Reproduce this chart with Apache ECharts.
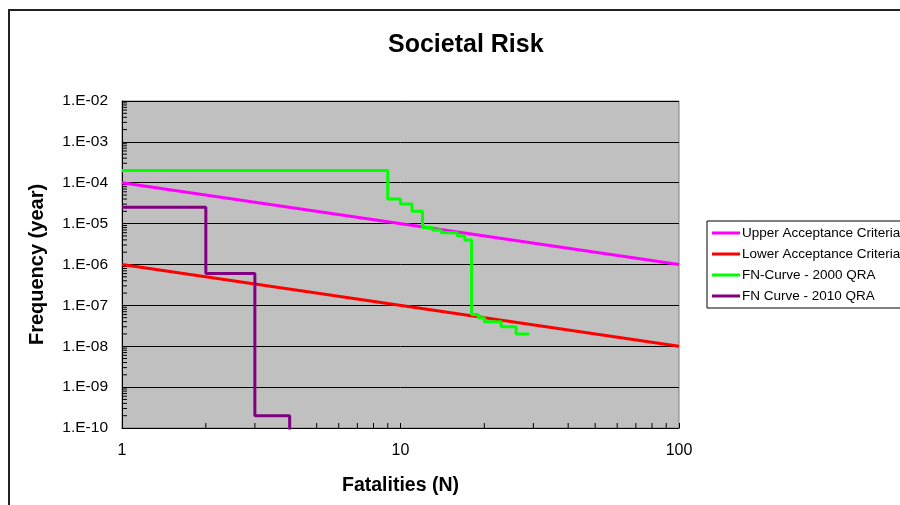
<!DOCTYPE html>
<html>
<head>
<meta charset="utf-8">
<script src="https://cdn.jsdelivr.net/npm/echarts@6/dist/echarts.min.js"></script>
<style>html,body{margin:0;padding:0;background:#fff}#c{width:900px;height:505px}</style>
</head>
<body>
<div id="c"></div>
<script>
// ---- data ----
const upperN = [1, 100];
const upperF = [1e-4, 1e-6];
const lowerN = [1, 100];
const lowerF = [1e-6, 1e-8];
const fn2000N = [1, 9, 10, 11, 12, 13, 14, 16, 17, 18, 19, 20, 23, 26, 29];
const fn2000F = [2e-4, 4e-5, 3e-5, 2e-5, 8e-6, 7e-6, 6e-6, 5e-6, 4e-6, 6e-8, 5e-8, 4e-8, 3e-8, 2e-8, 2e-8];
const fn2010N = [1, 2, 3, 4];
const fn2010F = [2.5e-5, 6e-7, 2e-10, 1e-11];
const seriesNames = ['Upper Acceptance Criteria', 'Lower Acceptance Criteria', 'FN-Curve - 2000 QRA', 'FN Curve - 2010 QRA'];
const xMin = 1, xMax = 100, yMin = 1e-10, yMax = 1e-2;

const zip = (a, b) => a.map((v, i) => [v, b[i]]);

// minor tick positions (2..9 per decade)
const xMinor = [];
for (let d = 1; d < xMax; d *= 10) for (let k = 2; k <= 9; k++) xMinor.push(k * d);
const yMinor = [];
for (let e = -10; e < -2; e++) for (let k = 2; k <= 9; k++) yMinor.push(k * Math.pow(10, e));

const fmtY = v => {
  const e = Math.round(Math.log10(v));
  const s = e < 0 ? '-' : '+';
  const a = Math.abs(e);
  return '1.E' + s + (a < 10 ? '0' + a : a);
};

const chart = echarts.init(document.getElementById('c'), null, {renderer: 'canvas'});
const font = 'Arial, "Liberation Sans", sans-serif';
chart.setOption({
  animation: false,
  backgroundColor: '#fff',
  textStyle: {fontFamily: font},
  graphic: [{
    type: 'rect', z: -10,
    shape: {x: 9, y: 10, width: 1200, height: 1000},
    style: {fill: 'none', stroke: '#222', lineWidth: 2}
  }],
  title: {
    text: 'Societal Risk', left: 383, top: 28,
    textStyle: {fontFamily: font, fontSize: 25, fontWeight: 'bold', color: '#000'}
  },
  legend: {
    orient: 'vertical', left: 707, top: 221,
    data: seriesNames,
    icon: 'rect', itemWidth: 28, itemHeight: 3, itemGap: 7,
    padding: [5, 60, 5, 5],
    borderColor: '#000', borderWidth: 1, borderRadius: 0,
    backgroundColor: '#fff',
    textStyle: {fontFamily: font, fontSize: 13.5, color: '#000', padding: [0, 0, 0, -3]}
  },
  grid: {
    left: 122, right: 221, top: 101, bottom: 77,
    show: true, backgroundColor: '#C0C0C0', borderColor: '#808080', borderWidth: 1
  },
  xAxis: {
    type: 'log', logBase: 10, min: xMin, max: xMax,
    name: 'Fatalities (N)', nameLocation: 'middle', nameGap: 48,
    nameTextStyle: {fontFamily: font, fontSize: 19.5, fontWeight: 'bold', color: '#000'},
    axisLine: {lineStyle: {color: '#000', width: 1}},
    axisTick: {inside: true, length: 5, lineStyle: {color: '#000'}},
    axisLabel: {fontFamily: font, fontSize: 16, color: '#000', margin: 15},
    splitLine: {show: false}
  },
  yAxis: {
    type: 'log', logBase: 10, min: yMin, max: yMax, interval: 1,
    name: 'Frequency (year)', nameLocation: 'middle', nameGap: 75, nameRotate: 90,
    nameTextStyle: {fontFamily: font, fontSize: 20, fontWeight: 'bold', color: '#000'},
    axisLine: {lineStyle: {color: '#000', width: 1}},
    axisTick: {inside: true, length: 5, lineStyle: {color: '#000'}},
    axisLabel: {fontFamily: font, fontSize: 15.5, color: '#000', margin: 14, formatter: fmtY},
    splitLine: {show: true, lineStyle: {color: '#000', width: 1}}
  },
  series: [
    {name: seriesNames[0], type: 'line', data: zip(upperN, upperF), symbol: 'none',
     lineStyle: {color: '#FF00FF', width: 3}, itemStyle: {color: '#FF00FF'}, z: 3},
    {name: seriesNames[1], type: 'line', data: zip(lowerN, lowerF), symbol: 'none',
     lineStyle: {color: '#FF0000', width: 3}, itemStyle: {color: '#FF0000'}, z: 3},
    {name: seriesNames[2], type: 'line', data: zip(fn2000N, fn2000F), symbol: 'none', step: 'end',
     lineStyle: {color: '#00FF00', width: 3}, itemStyle: {color: '#00FF00'}, z: 4, clip: true},
    {name: seriesNames[3], type: 'line', data: zip(fn2010N, fn2010F), symbol: 'none', step: 'end',
     lineStyle: {color: '#800080', width: 3}, itemStyle: {color: '#800080'}, z: 4, clip: true},
    {name: 'xminor', type: 'custom', silent: true, z: 2,
     data: xMinor.map(v => [v, yMin]),
     renderItem: (params, api) => {
       const p = api.coord([api.value(0), yMin]);
       return {type: 'line', shape: {x1: p[0], y1: p[1], x2: p[0], y2: p[1] - 5},
               style: {stroke: '#000', lineWidth: 1}};
     }},
    {name: 'yminor', type: 'custom', silent: true, z: 2,
     data: yMinor.map(v => [xMin, v]),
     renderItem: (params, api) => {
       const p = api.coord([xMin, api.value(1)]);
       return {type: 'line', shape: {x1: p[0], y1: p[1], x2: p[0] + 5, y2: p[1]},
               style: {stroke: '#000', lineWidth: 1}};
     }}
  ]
});
</script>
</body>
</html>
